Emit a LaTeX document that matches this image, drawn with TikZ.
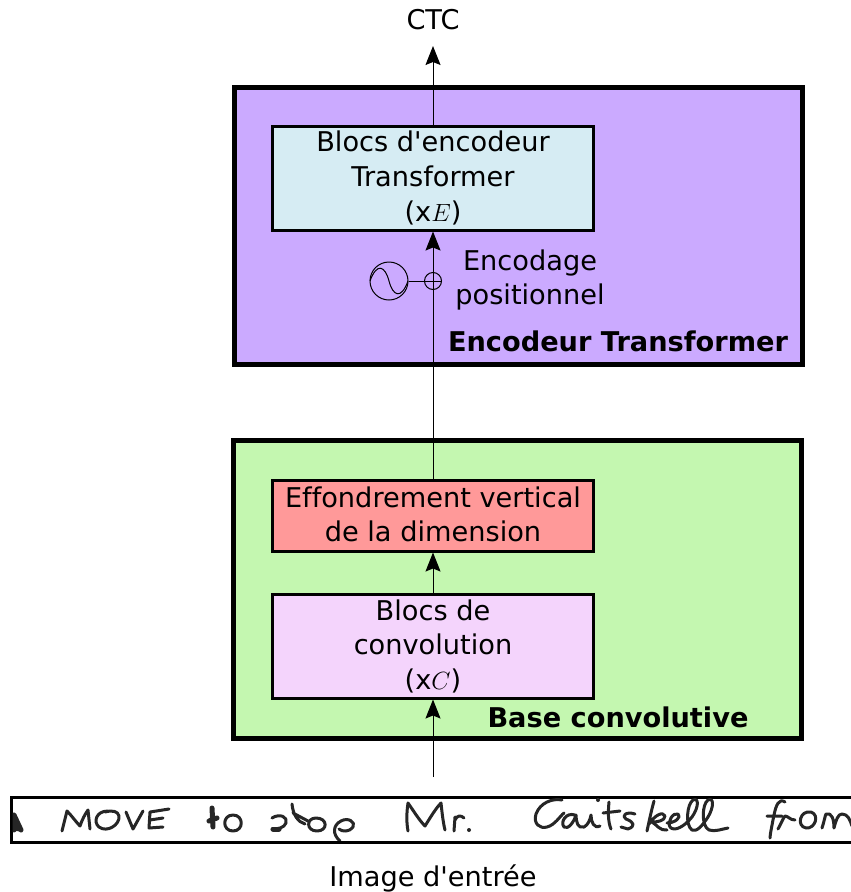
\documentclass[tikz,border=0pt]{standalone}
\usepackage{fontspec}
\newfontfamily\djv{DejaVu Sans}[Ligatures=NoCommon]
\usetikzlibrary{arrows.meta}
\tikzset{
 panel/.style={draw=black,line width=5pt,line join=miter,inner sep=0pt},
 blockbox/.style={draw=black,line width=3pt,inner sep=0pt},
 lab/.style={inner sep=0pt,font=\djv\fontsize{27.2}{33}\selectfont,align=center},
 boldlab/.style={inner sep=0pt,font=\djv\fontsize{27.2}{33}\selectfont\bfseries},
 flow/.style={draw=black,line width=1pt,-{Stealth[length=19pt,width=15pt,inset=3pt]}},
 thin line/.style={draw=black,line width=1pt},
 ink/.style={draw=black!85,line width=3pt,line cap=round,line join=round},
 blob/.style={draw=black!85,line width=5pt,line cap=round,line join=round}
}
\begin{document}
\begin{tikzpicture}[x=1pt,y=-1pt]
\useasboundingbox (0,0) rectangle (851,892);
% panels
\node[panel,fill={rgb,255:red,203;green,170;blue,255},minimum width=568pt,minimum height=277pt] (enc) at (518.5,225.5) {};
\node[panel,fill={rgb,255:red,196;green,247;blue,176},minimum width=568pt,minimum height=298pt] (base) at (517.5,589) {};
\node[blockbox,fill={rgb,255:red,214;green,236;blue,243},minimum width=321pt,minimum height=104pt] (tb) at (433,178) {};
\node[lab] (t1) at (433,141) {Blocs d'encodeur};
\node[lab] (t2) at (433,176) {Transformer};
\node[lab] (t3) at (433,212.5) {(x\(E\))};
\node[blockbox,fill={rgb,255:red,255;green,153;blue,153},minimum width=321pt,minimum height=71pt] (ev) at (433,515.5) {};
\node[lab] (e1) at (433,497) {Effondrement vertical};
\node[lab] (e2) at (433,531) {de la dimension};
\node[blockbox,fill={rgb,255:red,244;green,212;blue,252},minimum width=321pt,minimum height=104pt] (cv) at (433,646) {};
\node[lab] (c1) at (433,610) {Blocs de};
\node[lab] (c2) at (433,644) {convolution};
\node[lab] (c3) at (433,680.5) {(x\(C\))};
\node[boldlab] (encl) at (618,341) {Encodeur Transformer};
\node[boldlab] (basel) at (618,717.5) {Base convolutive};
\node[lab] (pos1) at (530,263) {Encodage};
\node[lab] (pos2) at (530,297) {positionnel};
\node[lab] (ctc) at (433,20) {CTC};
\node[lab] (img) at (433,878) {Image d'entrée};
% image strip
\node[draw=black,line width=3pt,fill=white,minimum width=860pt,minimum height=45pt,inner sep=0pt] (strip) at (441,819.5) {};
\coordinate (src) at (433,777);
\coordinate (top) at (433,46);
% arrows
\draw[flow] (src) -- (cv.south);
\draw[flow] (cv.north) -- (ev.south);
\draw[flow] (ev.north) -- (tb.south);
\draw[flow] (tb.north) -- (top);
% positional encoding
\node[draw=black,line width=1pt,circle,minimum size=38pt,inner sep=0pt] (osc) at (389,281) {};
\node[draw=black,line width=1pt,circle,minimum size=17pt,inner sep=0pt] (plus) at (433,281) {};
\draw[thin line] (osc.east) -- (plus.west);
\draw[thin line] (plus.west) -- (plus.east);
\draw[thin line] (370,281) .. controls (377,262) and (385,266) .. (389,281) .. controls (393,296) and (401,300) .. (408,281);
% handwriting
\begin{scope}
\clip (12.5,798.5) rectangle (851,840.5);
\draw[blob] (14,815) -- (21,830) (14,828) -- (20,829) (13,820) -- (14,830);
\draw[ink] (62,831) -- (67,811) .. controls (72,816) and (76,822) .. (80,826) .. controls (82,820) and (85,814) .. (88,810) -- (90,829);
\draw[ink] (108,811) .. controls (96,811) and (93,822) .. (99,827) .. controls (107,833) and (120,825) .. (119,816) .. controls (118,811) and (112,810) .. (105,812);
\draw[ink] (126,812) -- (133,829) -- (143,811);
\draw[ink] (169,809) -- (150,812) -- (149,828) -- (163,827) (150,820) -- (163,818);
\draw[blob] (212,808) -- (213,827) (209,821) -- (217,818);
\draw[ink] (233,815) .. controls (222,815) and (222,831) .. (233,831) .. controls (244,831) and (244,815) .. (233,815);
\draw[ink] (272,818) .. controls (280,813) and (288,817) .. (286,823) .. controls (284,828) and (278,829) .. (272,829);
\draw[blob] (273,829) -- (279,829);
\draw[ink] (292,804) .. controls (293,815) and (298,822) .. (305,824) (293,813) -- (308,821);
\draw[ink] (316,818) .. controls (306,818) and (306,831) .. (317,831) .. controls (328,831) and (328,818) .. (316,818);
\draw[ink] (340,841) .. controls (332,834) and (333,825) .. (341,821) .. controls (348,817) and (356,822) .. (353,827) .. controls (350,832) and (342,832) .. (339,829);
% Mr.
\draw[ink] (408,831) .. controls (406,820) and (407,810) .. (408,803) .. controls (413,810) and (419,820) .. (425,826) .. controls (430,818) and (436,808) .. (441,803) .. controls (442,812) and (443,822) .. (445,830);
\draw[ink] (455,817) -- (454,831) (455,820) .. controls (457,815) and (461,815) .. (464,818);
\fill[black!85] (469,830) circle (2pt);
% Gaitskell
\draw[ink] (562,800) .. controls (552,798) and (540,803) .. (536,814) .. controls (533,824) and (540,829) .. (547,827) .. controls (555,825) and (560,816) .. (564,813);
\draw[ink] (575,815) .. controls (566,812) and (560,822) .. (564,827) .. controls (568,830) and (574,822) .. (576,815) .. controls (576,822) and (578,829) .. (584,827) .. controls (588,825) and (590,820) .. (591,815) .. controls (591,822) and (594,829) .. (600,826);
\fill[black!85] (598,800) circle (2pt);
\draw[ink] (609,802) .. controls (608,812) and (608,822) .. (611,829) (603,813) -- (620,811);
\draw[ink] (635,814) .. controls (626,811) and (621,816) .. (626,819) .. controls (634,822) and (636,826) .. (628,829) -- (621,827);
\draw[ink] (654,801) .. controls (651,812) and (649,822) .. (647,831) (649,824) .. controls (655,815) and (663,811) .. (665,816) .. controls (665,821) and (657,822) .. (652,822) .. controls (657,825) and (660,831) .. (667,830);
\draw[ink] (667,823) .. controls (675,823) and (682,817) .. (678,814) .. controls (673,812) and (667,822) .. (670,827) .. controls (674,832) and (684,827) .. (692,817) .. controls (699,807) and (699,797) .. (693,800) .. controls (687,804) and (685,825) .. (692,830) .. controls (697,832) and (702,826) .. (708,817) .. controls (714,807) and (714,797) .. (708,800) .. controls (702,804) and (701,826) .. (709,830) .. controls (715,832) and (722,829) .. (728,828);
% from
\draw[ink] (785,802) .. controls (779,798) and (776,805) .. (774,815) .. controls (772,825) and (770,835) .. (770,838) (767,816) -- (782,816);
\draw[ink] (778,829) .. controls (781,824) and (783,818) .. (785,816) .. controls (788,816) and (790,820) .. (795,820);
\draw[ink] (811,812) .. controls (800,810) and (796,826) .. (806,828) .. controls (815,829) and (820,815) .. (811,812);
\draw[ink] (822,828) .. controls (824,822) and (825,816) .. (826,814) .. controls (832,812) and (834,820) .. (834,828) .. controls (836,820) and (838,814) .. (842,814) .. controls (848,814) and (850,820) .. (852,826);
\end{scope}
\end{tikzpicture}
\end{document}
